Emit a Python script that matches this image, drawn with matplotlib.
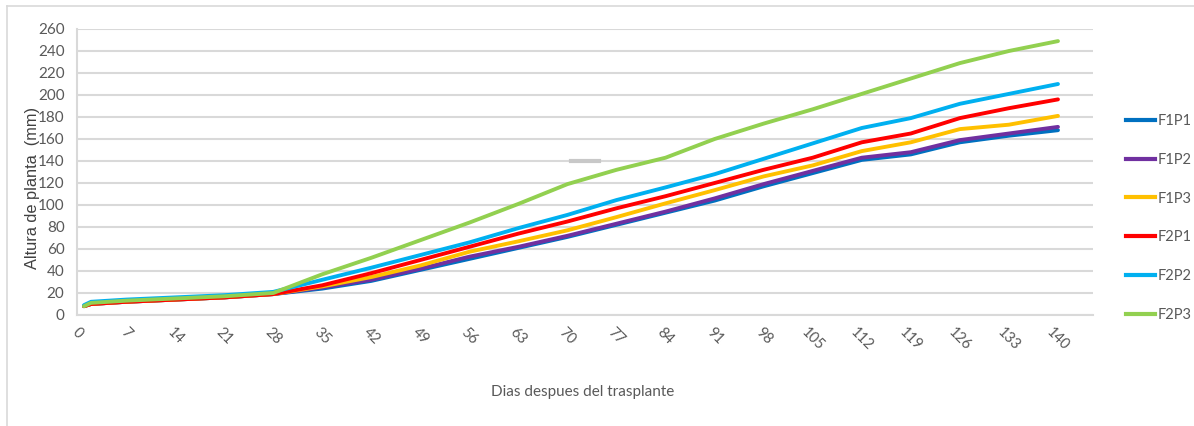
import matplotlib
matplotlib.use("Agg")
import matplotlib.pyplot as plt
from matplotlib.lines import Line2D

# Days after transplant at which plant height was recorded
days = [1, 2, 7, 14, 21, 28, 35, 42, 49, 56, 63, 70, 77, 84, 91, 98, 105, 112, 119, 126, 133, 140]

# Plant height (mm) per treatment
f1p1 = [8, 10, 12, 14, 16, 19, 24, 31, 41, 51, 61, 71, 82, 93, 104, 117, 129, 141, 146, 157, 163, 168]
f1p2 = [8, 10, 12, 14, 16, 19, 25, 32, 42, 53, 62, 72, 83, 94, 106, 119, 131, 143, 148, 159, 165, 171]
f1p3 = [8, 10, 12, 14, 16, 19, 26, 34.5, 45, 57.5, 67, 77, 89, 101.5, 113.5, 126, 136, 149, 157, 169, 173, 181]
f2p1 = [8, 10, 12, 14, 16, 19, 27, 38, 50, 62, 74, 85, 97, 108, 120, 132, 143, 157, 165, 179, 188, 196]
f2p2 = [9, 12, 14, 16, 18, 21, 32, 43, 54.5, 66, 79, 91, 104.5, 116, 128, 142, 156, 170, 179, 192, 201, 210]
f2p3 = [8, 11, 13, 15, 17, 20, 37, 52, 68, 84, 101, 119, 132, 143, 160, 174, 187, 201, 215, 229, 240, 249]

series_names = ["F1P1", "F1P2", "F1P3", "F2P1", "F2P2", "F2P3"]
series_values = [f1p1, f1p2, f1p3, f2p1, f2p2, f2p3]
series_colors = ["#0070C0", "#7030A0", "#FFC000", "#FF0000", "#00B0F0", "#92D050"]

x_ticks = list(range(0, 141, 7))
y_ticks = list(range(0, 261, 20))

narrow = "Lato"
text_gray = "#595959"
grid_gray = "#d9d9d9"

W, H = 1194, 426
fig = plt.figure(figsize=(W / 100, H / 100), dpi=100)

# chart frame
fig.add_artist(Line2D([7 / W, 7 / W], [0, 1 - 6 / H], transform=fig.transFigure,
                      color="#d9d9d9", lw=1.2))
fig.add_artist(Line2D([7 / W, 1], [1 - 6 / H, 1 - 6 / H], transform=fig.transFigure,
                      color="#d9d9d9", lw=1.2))

left, right, top, bottom = 77, 1093, 29, 315
ax = fig.add_axes([left / W, 1 - bottom / H, (right - left) / W, (bottom - top) / H])

for name, vals, col in zip(series_names, series_values, series_colors):
    ax.plot(days, vals, color=col, lw=2.8, label=name, solid_capstyle="round",
            solid_joinstyle="round")

ax.set_xlim(0, 145)
ax.set_ylim(0, 260)
ax.set_xticks(x_ticks)
ax.set_yticks(y_ticks)
ax.set_xticklabels([str(t) for t in x_ticks], rotation=-45, ha="center", va="top",
                   fontfamily=narrow, fontsize=10.5, color=text_gray)
ax.set_yticklabels([str(t) for t in y_ticks], fontfamily=narrow, fontsize=11, color=text_gray)
ax.tick_params(axis="both", length=0)
ax.tick_params(axis="x", pad=7)
ax.tick_params(axis="y", pad=9)

ax.grid(axis="y", color=grid_gray, lw=1.5)
ax.set_axisbelow(True)
for s in ["top", "right"]:
    ax.spines[s].set_visible(False)
for s in ["left", "bottom"]:
    ax.spines[s].set_color(grid_gray)
    ax.spines[s].set_linewidth(1.5)

ax.set_ylabel("Altura de planta  (mm)", fontfamily="Liberation Sans", fontsize=11.8,
              color="#404040")
ax.yaxis.set_label_coords((40 - left) / (right - left), (bottom - 188) / (bottom - top))
ax.set_xlabel("Dias despues del trasplante", fontfamily=narrow, fontsize=11,
              color=text_gray)
ax.xaxis.set_label_coords((583 - left) / (right - left), -(385 - bottom) / (bottom - top))

# small grey bar resting on the 140 mm gridline
fig.add_artist(Line2D([571 / W, 599 / W], [1 - 160.5 / H, 1 - 160.5 / H],
                      transform=fig.transFigure, color="#c8c8c8", lw=3))

handles = [Line2D([0], [0], color=c, lw=3) for c in series_colors]
leg = fig.legend(handles, series_names, loc="center left",
                 bbox_to_anchor=(1126 / W, 1 - 218 / H), frameon=False,
                 prop={"family": narrow, "size": 10.5}, labelcolor=text_gray,
                 labelspacing=1.7, handlelength=2.0, handletextpad=0.15,
                 borderpad=0, borderaxespad=0)

fig.savefig("out.png", dpi=100)
